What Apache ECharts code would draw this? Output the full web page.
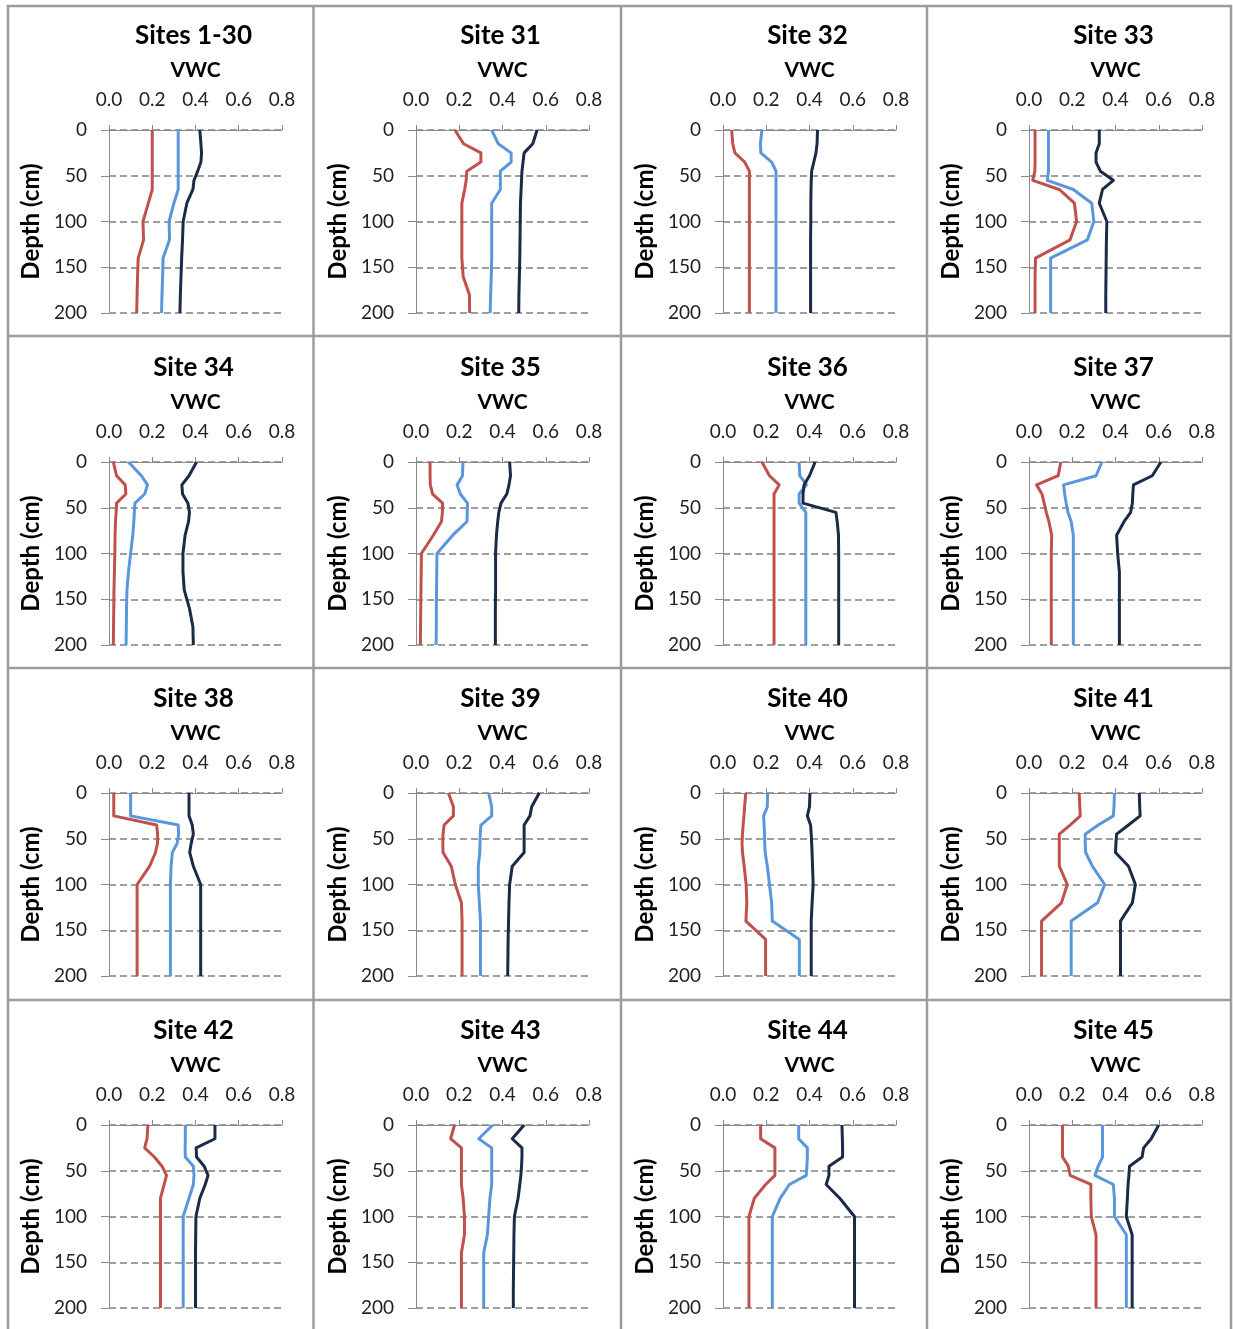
<!DOCTYPE html>
<html>
<head>
<meta charset="utf-8">
<title>Soil moisture profiles</title>
<script src="https://cdn.jsdelivr.net/npm/echarts@6/dist/echarts.min.js"></script>
<style>
  html, body { margin: 0; padding: 0; background: #fff; }
  #chart { width: 1233px; height: 1329px; }
</style>
</head>
<body>
<div id="chart"></div>
<script>
// Measurement depths (cm) shared by every profile
const DEPTH = [0, 15, 25, 35, 45, 55, 65, 80, 100, 120, 140, 160, 180, 200];

// Axis ranges
const VWC_MIN = 0, VWC_MAX = 0.8, VWC_STEP = 0.2;
const DEPTH_MIN = 0, DEPTH_MAX = 200, DEPTH_STEP = 50;

// Panel titles, in reading order
const SITES = ['Sites 1-30', 'Site 31', 'Site 32', 'Site 33',
               'Site 34', 'Site 35', 'Site 36', 'Site 37',
               'Site 38', 'Site 39', 'Site 40', 'Site 41',
               'Site 42', 'Site 43', 'Site 44', 'Site 45'];

// Volumetric water content per depth; profiles a, b, c for each site
const sites1_30_a = [0.2, 0.2, 0.2, 0.2, 0.2, 0.2, 0.2, 0.182, 0.157, 0.16, 0.135, 0.132, 0.13, 0.128];
const sites1_30_b = [0.32, 0.32, 0.32, 0.32, 0.32, 0.32, 0.32, 0.30, 0.278, 0.28, 0.25, 0.248, 0.245, 0.243];
const sites1_30_c = [0.42, 0.425, 0.428, 0.425, 0.41, 0.393, 0.388, 0.36, 0.343, 0.34, 0.336, 0.333, 0.33, 0.328];

const site31_a = [0.18, 0.22, 0.30, 0.30, 0.235, 0.232, 0.225, 0.212, 0.212, 0.212, 0.212, 0.218, 0.247, 0.248];
const site31_b = [0.35, 0.38, 0.44, 0.44, 0.39, 0.39, 0.39, 0.35, 0.35, 0.35, 0.35, 0.348, 0.345, 0.343];
const site31_c = [0.56, 0.54, 0.50, 0.495, 0.49, 0.488, 0.486, 0.483, 0.482, 0.481, 0.48, 0.478, 0.476, 0.475];

const site32_a = [0.04, 0.045, 0.055, 0.10, 0.122, 0.122, 0.122, 0.122, 0.122, 0.122, 0.122, 0.122, 0.122, 0.122];
const site32_b = [0.18, 0.173, 0.175, 0.225, 0.245, 0.245, 0.245, 0.245, 0.245, 0.245, 0.245, 0.245, 0.245, 0.245];
const site32_c = [0.437, 0.435, 0.43, 0.42, 0.41, 0.408, 0.407, 0.406, 0.406, 0.405, 0.405, 0.405, 0.405, 0.405];

const site33_a = [0.028, 0.028, 0.028, 0.028, 0.027, 0.017, 0.14, 0.21, 0.22, 0.19, 0.03, 0.028, 0.028, 0.028];
const site33_b = [0.09, 0.09, 0.09, 0.09, 0.09, 0.085, 0.205, 0.29, 0.30, 0.27, 0.10, 0.10, 0.10, 0.10];
const site33_c = [0.325, 0.325, 0.31, 0.31, 0.33, 0.39, 0.34, 0.325, 0.36, 0.358, 0.357, 0.356, 0.355, 0.355];

const site34_a = [0.02, 0.035, 0.075, 0.078, 0.035, 0.033, 0.03, 0.028, 0.027, 0.025, 0.023, 0.022, 0.021, 0.02];
const site34_b = [0.09, 0.15, 0.178, 0.165, 0.12, 0.117, 0.115, 0.11, 0.10, 0.09, 0.083, 0.081, 0.08, 0.079];
const site34_c = [0.405, 0.37, 0.337, 0.34, 0.365, 0.372, 0.368, 0.352, 0.342, 0.342, 0.348, 0.372, 0.388, 0.39];

const site35_a = [0.065, 0.065, 0.066, 0.077, 0.123, 0.122, 0.118, 0.08, 0.025, 0.024, 0.023, 0.022, 0.021, 0.02];
const site35_b = [0.217, 0.215, 0.19, 0.205, 0.238, 0.237, 0.236, 0.17, 0.097, 0.096, 0.095, 0.094, 0.094, 0.093];
const site35_c = [0.433, 0.437, 0.43, 0.42, 0.393, 0.383, 0.378, 0.372, 0.368, 0.368, 0.368, 0.367, 0.367, 0.367];

const site36_a = [0.18, 0.215, 0.26, 0.236, 0.236, 0.236, 0.236, 0.236, 0.236, 0.236, 0.236, 0.236, 0.236, 0.236];
const site36_b = [0.352, 0.355, 0.386, 0.352, 0.352, 0.383, 0.383, 0.383, 0.383, 0.383, 0.383, 0.383, 0.383, 0.383];
const site36_c = [0.426, 0.40, 0.375, 0.37, 0.37, 0.522, 0.528, 0.534, 0.535, 0.535, 0.535, 0.535, 0.535, 0.535];

const site37_a = [0.147, 0.135, 0.035, 0.06, 0.07, 0.08, 0.092, 0.105, 0.103, 0.103, 0.103, 0.103, 0.103, 0.103];
const site37_b = [0.337, 0.31, 0.16, 0.165, 0.172, 0.18, 0.195, 0.205, 0.205, 0.205, 0.205, 0.205, 0.205, 0.205];
const site37_c = [0.61, 0.57, 0.483, 0.48, 0.478, 0.47, 0.44, 0.405, 0.41, 0.418, 0.418, 0.418, 0.418, 0.418];

const site38_a = [0.022, 0.022, 0.022, 0.22, 0.225, 0.224, 0.215, 0.188, 0.13, 0.13, 0.13, 0.13, 0.13, 0.13];
const site38_b = [0.1, 0.1, 0.1, 0.32, 0.322, 0.315, 0.293, 0.287, 0.284, 0.284, 0.284, 0.284, 0.284, 0.284];
const site38_c = [0.37, 0.37, 0.37, 0.385, 0.39, 0.38, 0.373, 0.39, 0.424, 0.424, 0.424, 0.424, 0.424, 0.424];

const site39_a = [0.15, 0.173, 0.173, 0.13, 0.125, 0.124, 0.125, 0.163, 0.182, 0.21, 0.213, 0.213, 0.213, 0.213];
const site39_b = [0.336, 0.35, 0.35, 0.30, 0.297, 0.296, 0.295, 0.288, 0.288, 0.293, 0.298, 0.298, 0.298, 0.298];
const site39_c = [0.57, 0.535, 0.527, 0.50, 0.50, 0.50, 0.50, 0.445, 0.433, 0.43, 0.428, 0.426, 0.425, 0.424];

const site40_a = [0.105, 0.10, 0.097, 0.093, 0.09, 0.088, 0.09, 0.098, 0.107, 0.11, 0.106, 0.197, 0.197, 0.197];
const site40_b = [0.206, 0.205, 0.188, 0.19, 0.192, 0.193, 0.195, 0.205, 0.215, 0.225, 0.228, 0.353, 0.353, 0.353];
const site40_c = [0.402, 0.40, 0.39, 0.405, 0.408, 0.41, 0.412, 0.414, 0.417, 0.412, 0.408, 0.408, 0.408, 0.408];

const site41_a = [0.232, 0.235, 0.237, 0.19, 0.14, 0.14, 0.14, 0.14, 0.177, 0.15, 0.058, 0.058, 0.058, 0.058];
const site41_b = [0.395, 0.393, 0.39, 0.32, 0.26, 0.26, 0.262, 0.293, 0.35, 0.317, 0.195, 0.195, 0.195, 0.195];
const site41_c = [0.51, 0.512, 0.514, 0.46, 0.405, 0.402, 0.40, 0.46, 0.492, 0.478, 0.423, 0.423, 0.423, 0.423];

const site42_a = [0.18, 0.176, 0.165, 0.21, 0.245, 0.266, 0.255, 0.238, 0.238, 0.238, 0.238, 0.238, 0.238, 0.238];
const site42_b = [0.353, 0.353, 0.352, 0.353, 0.39, 0.393, 0.39, 0.37, 0.343, 0.343, 0.343, 0.343, 0.343, 0.343];
const site42_c = [0.49, 0.49, 0.403, 0.405, 0.44, 0.458, 0.445, 0.42, 0.402, 0.401, 0.40, 0.40, 0.40, 0.40];

const site43_a = [0.178, 0.16, 0.21, 0.21, 0.21, 0.21, 0.21, 0.218, 0.224, 0.224, 0.21, 0.21, 0.21, 0.21];
const site43_b = [0.355, 0.29, 0.35, 0.35, 0.35, 0.35, 0.35, 0.342, 0.336, 0.33, 0.313, 0.313, 0.313, 0.313];
const site43_c = [0.50, 0.445, 0.49, 0.49, 0.488, 0.485, 0.48, 0.472, 0.455, 0.453, 0.452, 0.451, 0.45, 0.45];

const site44_a = [0.174, 0.174, 0.24, 0.24, 0.24, 0.24, 0.197, 0.145, 0.12, 0.12, 0.12, 0.12, 0.12, 0.12];
const site44_b = [0.35, 0.35, 0.39, 0.39, 0.388, 0.385, 0.307, 0.265, 0.228, 0.228, 0.228, 0.228, 0.228, 0.228];
const site44_c = [0.55, 0.552, 0.553, 0.553, 0.49, 0.49, 0.477, 0.54, 0.608, 0.608, 0.608, 0.608, 0.608, 0.608];

const site45_a = [0.155, 0.155, 0.155, 0.155, 0.182, 0.19, 0.286, 0.286, 0.288, 0.31, 0.31, 0.31, 0.31, 0.31];
const site45_b = [0.34, 0.34, 0.34, 0.34, 0.32, 0.305, 0.39, 0.395, 0.395, 0.45, 0.45, 0.45, 0.45, 0.45];
const site45_c = [0.60, 0.565, 0.53, 0.523, 0.465, 0.462, 0.458, 0.455, 0.45, 0.477, 0.477, 0.477, 0.477, 0.477];

const PROFILES = [
  [sites1_30_a, sites1_30_b, sites1_30_c],
  [site31_a, site31_b, site31_c],
  [site32_a, site32_b, site32_c],
  [site33_a, site33_b, site33_c],
  [site34_a, site34_b, site34_c],
  [site35_a, site35_b, site35_c],
  [site36_a, site36_b, site36_c],
  [site37_a, site37_b, site37_c],
  [site38_a, site38_b, site38_c],
  [site39_a, site39_b, site39_c],
  [site40_a, site40_b, site40_c],
  [site41_a, site41_b, site41_c],
  [site42_a, site42_b, site42_c],
  [site43_a, site43_b, site43_c],
  [site44_a, site44_b, site44_c],
  [site45_a, site45_b, site45_c]
];

// ---- layout and styling ----
const FONT = 'Lato, "Open Sans", "DejaVu Sans", sans-serif';
const LINE_COLORS = ['#C0504D', '#5A96DC', '#1B2A47'];
const COL_LEFT = [109, 416, 723, 1029];
const ROW_TOP = [130, 462, 793, 1125];
const PLOT_W = 173, PLOT_H = 183;
const AXIS_GRAY = '#8a8a8a';

const grids = [], xAxes = [], yAxes = [], titles = [], series = [];

SITES.forEach((name, i) => {
  const col = i % 4, row = Math.floor(i / 4);
  const left = COL_LEFT[col], top = ROW_TOP[row];

  grids.push({ left: left, top: top, width: PLOT_W, height: PLOT_H, containLabel: false });

  titles.push({
    text: name,
    left: left + PLOT_W / 2 - 7,
    top: top - 99,
    textAlign: 'center',
    textVerticalAlign: 'middle',
    textStyle: { fontFamily: FONT, fontWeight: 'bold', fontSize: 26, color: '#000' }
  });

  xAxes.push({
    gridIndex: i,
    type: 'value',
    position: 'top',
    min: VWC_MIN, max: VWC_MAX, interval: VWC_STEP,
    name: 'VWC',
    nameLocation: 'middle',
    nameGap: 49,
    nameTextStyle: { fontFamily: FONT, fontWeight: 'bold', fontSize: 21, color: '#000' },
    axisLine: { show: true, onZero: false, lineStyle: { color: AXIS_GRAY, width: 1 } },
    axisTick: { show: true, length: 5, lineStyle: { color: AXIS_GRAY, width: 1 } },
    axisLabel: {
      fontFamily: FONT, fontSize: 19, color: '#222', margin: 21,
      formatter: v => v.toFixed(1)
    },
    splitLine: { show: false }
  });

  yAxes.push({
    gridIndex: i,
    type: 'value',
    inverse: true,
    min: DEPTH_MIN, max: DEPTH_MAX, interval: DEPTH_STEP,
    name: 'Depth (cm)',
    nameLocation: 'middle',
    nameGap: 66,
    nameRotate: 90,
    nameTextStyle: { fontFamily: FONT, fontWeight: 'bold', fontSize: 24, color: '#000' },
    axisLine: { show: true, onZero: false, lineStyle: { color: AXIS_GRAY, width: 1 } },
    axisTick: { show: true, length: 8, lineStyle: { color: AXIS_GRAY, width: 1 } },
    axisLabel: { fontFamily: FONT, fontSize: 19, color: '#222', margin: 22 },
    splitLine: { show: true, lineStyle: { type: [7, 4], color: '#808080', width: 1.6 } }
  });

  PROFILES[i].forEach((vals, k) => {
    series.push({
      type: 'line',
      xAxisIndex: i,
      yAxisIndex: i,
      data: DEPTH.map((d, j) => [vals[j], d]),
      showSymbol: false,
      symbol: 'none',
      silent: true,
      lineStyle: { color: LINE_COLORS[k], width: 3, join: 'round', cap: 'butt' },
      z: 3 + k
    });
  });
});

// Table rules separating the panels
const V_RULES = [8, 313.5, 621, 927, 1231];
const H_RULES = [6, 336, 668, 1000];
const rules = [];
V_RULES.forEach(x => rules.push({
  type: 'line', silent: true, z: 0,
  shape: { x1: x, y1: 5, x2: x, y2: 1329 },
  style: { stroke: '#9c9c9c', lineWidth: 2.5 }
}));
H_RULES.forEach(y => rules.push({
  type: 'line', silent: true, z: 0,
  shape: { x1: 7, y1: y, x2: 1232, y2: y },
  style: { stroke: '#9c9c9c', lineWidth: 2.5 }
}));

const chart = echarts.init(document.getElementById('chart'), null, { renderer: 'canvas' });
chart.setOption({
  backgroundColor: '#ffffff',
  animation: false,
  title: titles,
  grid: grids,
  xAxis: xAxes,
  yAxis: yAxes,
  series: series,
  graphic: rules
});
</script>
</body>
</html>
